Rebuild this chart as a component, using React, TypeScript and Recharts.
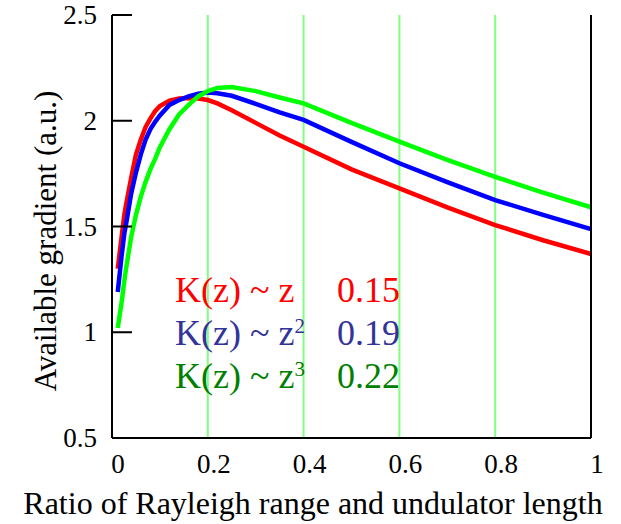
import { LineChart, Line, XAxis, YAxis, ReferenceLine } from "recharts"

// ratio of Rayleigh range / undulator length
const xs = [0.012, 0.02, 0.026, 0.03, 0.04, 0.05, 0.06, 0.07, 0.08, 0.09, 0.1, 0.12, 0.14, 0.16, 0.18, 0.2, 0.22, 0.25, 0.3, 0.35, 0.4, 0.5, 0.6, 0.7, 0.8, 0.9, 1.0]
// K(z) ~ z
const redVals = [1.3, 1.45, 1.56, 1.61, 1.73, 1.84, 1.91, 1.97, 2.01, 2.045, 2.07, 2.095, 2.105, 2.108, 2.105, 2.098, 2.082, 2.05, 1.99, 1.93, 1.877, 1.77, 1.68, 1.59, 1.507, 1.435, 1.37]
// K(z) ~ z^2
const blueVals = [1.19, 1.36, 1.47, 1.52, 1.655, 1.755, 1.84, 1.91, 1.96, 1.995, 2.025, 2.075, 2.098, 2.115, 2.128, 2.133, 2.13, 2.118, 2.08, 2.04, 2.004, 1.9, 1.799, 1.71, 1.625, 1.555, 1.488]
// K(z) ~ z^3
const greenVals = [1.02, 1.14, 1.247, 1.31, 1.45, 1.555, 1.64, 1.71, 1.77, 1.82, 1.875, 1.96, 2.03, 2.075, 2.115, 2.14, 2.155, 2.16, 2.14, 2.11, 2.082, 1.99, 1.901, 1.815, 1.735, 1.66, 1.591]

const xTicks = [0, 0.2, 0.4, 0.6, 0.8, 1]
const yTicks = [0.5, 1, 1.5, 2, 2.5]
const gridXs = [0.2, 0.4, 0.6, 0.8]

const legendNames = ["K(z) ~ z", "K(z) ~ z", "K(z) ~ z"]
const legendPowers = ["", "2", "3"]
const legendValues = ["0.15", "0.19", "0.22"]

const xTitle = "Ratio of Rayleigh range and undulator length"
const yTitle = "Available gradient (a.u.)"

const lineColors = ["#ff0000", "#0000ff", "#00ff00"]
const textColors = ["#ff0000", "#333399", "#008000"]
const FONT = '"Liberation Serif", "Times New Roman", serif'
const serif = { fontFamily: FONT }

const data = xs.map((x, i) => ({ x, red: redVals[i], blue: blueVals[i], green: greenVals[i] }))

function LeftTick({ x, y, payload }: any) {
  return (
    <g>
      <line x1={x + 15} x2={x + 35} y1={y} y2={y} stroke="#000" strokeWidth={2} />
      <text x={x} y={y} dy={9} textAnchor="end" fontSize={27} style={serif} fill="#000">
        {payload.value}
      </text>
    </g>
  )
}

function RightTick({ x, y }: any) {
  return <line x1={x - 20} x2={x} y1={y} y2={y} stroke="#000" strokeWidth={2} />
}

function BottomTick({ x, y, payload }: any) {
  return (
    <text x={x + 6} y={y} dy={19} textAnchor="middle" fontSize={27} style={serif} fill="#000">
      {payload.value}
    </text>
  )
}

export default function App() {
  return (
    <div style={{ position: "absolute", left: 0, top: 0, width: 621, height: 524, background: "#fff", ...serif }}>
      <LineChart width={621} height={524} data={data} margin={{ top: 15, right: 0, bottom: 0, left: 0 }}>
        <XAxis
          dataKey="x"
          type="number"
          domain={[0, 1]}
          ticks={xTicks}
          height={86}
          tickSize={0}
          tickMargin={16}
          tickLine={false}
          axisLine={{ stroke: "#000", strokeWidth: 2 }}
          tick={<BottomTick />}
          label={{
            content: () => (
              <text x={313} y={514} textAnchor="middle" fontSize={32} style={serif} fill="#000">
                {xTitle}
              </text>
            ),
          }}
        />
        <XAxis
          xAxisId="top"
          orientation="top"
          dataKey="x"
          type="number"
          domain={[0, 1]}
          height={0}
          tick={false}
          tickLine={false}
          axisLine={{ stroke: "#000", strokeWidth: 2 }}
        />
        <YAxis
          type="number"
          domain={[0.5, 2.5]}
          ticks={yTicks}
          width={112}
          tickSize={0}
          tickMargin={15}
          tickLine={false}
          axisLine={{ stroke: "#000", strokeWidth: 2 }}
          tick={<LeftTick />}
          label={{
            content: () => (
              <text
                x={45}
                y={241}
                transform="rotate(-90 45 241)"
                textAnchor="middle"
                dominantBaseline="central"
                fontSize={31}
                style={serif}
                fill="#000"
              >
                {yTitle}
              </text>
            ),
          }}
        />
        <YAxis
          yAxisId="right"
          orientation="right"
          type="number"
          domain={[0.5, 2.5]}
          ticks={yTicks}
          width={30}
          tickSize={0}
          tickMargin={0}
          tickLine={false}
          axisLine={{ stroke: "#000", strokeWidth: 2 }}
          tick={<RightTick />}
        />
        {gridXs.map((g) => (
          <ReferenceLine key={g} x={g} stroke="#80ff80" strokeWidth={2} />
        ))}
        <Line type="linear" dataKey="red" stroke={lineColors[0]} strokeWidth={4.5} dot={false} isAnimationActive={false} />
        <Line type="linear" dataKey="blue" stroke={lineColors[1]} strokeWidth={4.5} dot={false} isAnimationActive={false} />
        <Line type="linear" dataKey="green" stroke={lineColors[2]} strokeWidth={4.5} dot={false} isAnimationActive={false} />
      </LineChart>
      <svg width={621} height={524} style={{ position: "absolute", left: 0, top: 0, pointerEvents: "none" }}>
        {legendNames.map((name, i) => (
          <g key={i} fontSize={36} fill={textColors[i]} style={serif}>
            <text x={175} y={302 + i * 43}>
              {name}
              {legendPowers[i] && (
                <tspan dy={-12} fontSize={21}>
                  {legendPowers[i]}
                </tspan>
              )}
            </text>
            <text x={337} y={302 + i * 43}>
              {legendValues[i]}
            </text>
          </g>
        ))}
      </svg>
    </div>
  )
}
